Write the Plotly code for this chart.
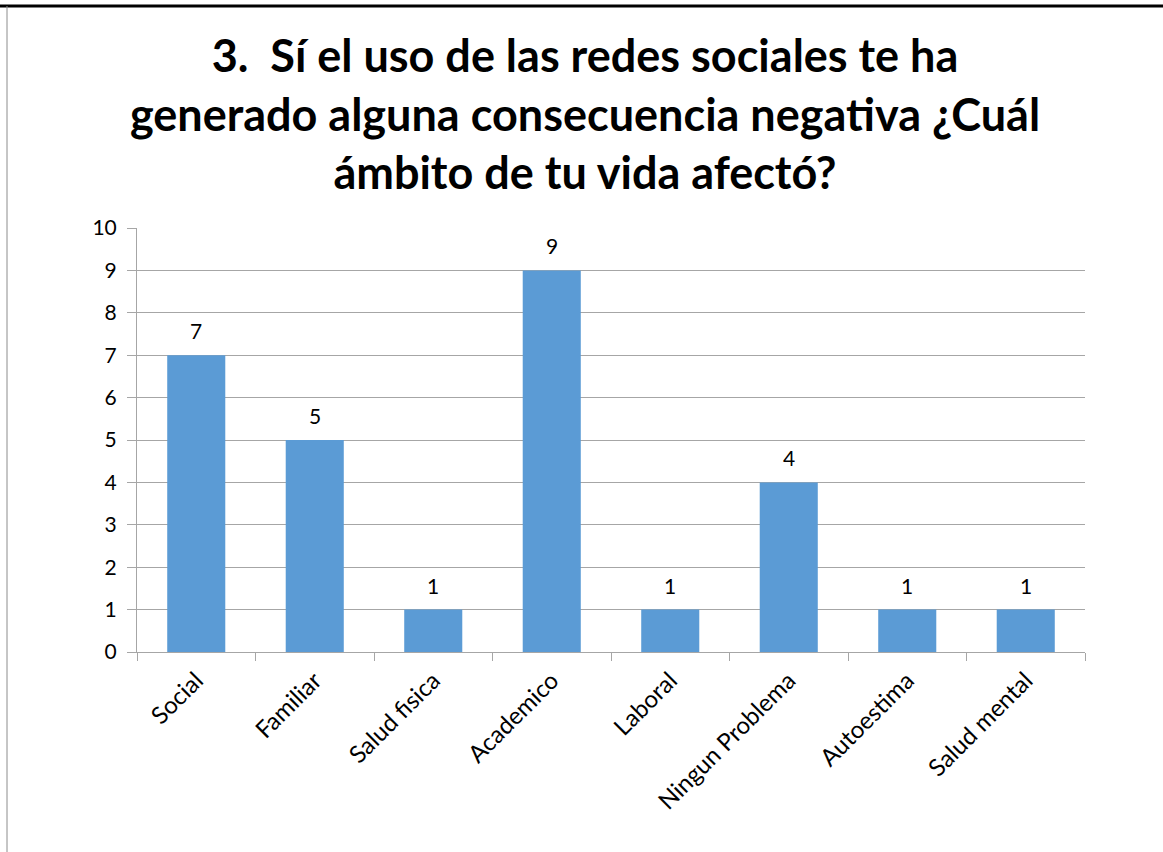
import plotly.graph_objects as go

categories = ["Social", "Familiar", "Salud fisica", "Academico", "Laboral",
              "Ningun Problema", "Autoestima", "Salud mental"]
values = [7, 5, 1, 9, 1, 4, 1, 1]
title_text = "3.  Sí el uso de las redes sociales te ha<br>generado alguna consecuencia negativa ¿Cuál<br>ámbito de tu vida afectó?"

W, H = 1163, 852
L, R, T, B = 137, 78, 228, 200
FONT = "Lato, Open Sans, sans-serif"

fig = go.Figure()
fig.add_trace(go.Bar(
    x=categories, y=values,
    marker=dict(color="#5B9BD5", line=dict(width=0)),
    width=0.49,
    hoverinfo="x+y",
))

for c, v in zip(categories, values):
    fig.add_annotation(x=c, y=v, text=str(v), showarrow=False,
                       xanchor="center", yanchor="bottom", yshift=10,
                       font=dict(family=FONT, size=21, color="#000000"))

fig.update_layout(
    width=W, height=H,
    margin=dict(l=L, r=R, t=T, b=B),
    paper_bgcolor="white", plot_bgcolor="white",
    showlegend=False,
    title=dict(text=title_text, x=0.503, xanchor="center", y=0.915, yanchor="top",
               font=dict(family=FONT, size=45, color="#000000", weight="bold")),
    font=dict(family=FONT, size=20, color="#000000"),
)
fig.update_yaxes(range=[0, 10], dtick=1, showgrid=True, gridcolor="#A6A6A6", gridwidth=1,
                 showline=True, linecolor="#A6A6A6", linewidth=1,
                 ticks="outside", ticklen=9, tickcolor="#A6A6A6",
                 zeroline=False, tickfont=dict(size=21), ticklabelstandoff=6)
fig.update_xaxes(showline=True, linecolor="#A6A6A6", linewidth=1,
                 ticks="outside", ticklen=8, tickcolor="#A6A6A6", tickson="boundaries",
                 tickangle=-45, tickfont=dict(size=24), showgrid=False, ticklabelstandoff=4)

def px_to_paper_x(px):
    return (px - L) / (W - L - R)
def py_to_paper_y(py):
    return (H - B - py) / (H - T - B)

fig.add_shape(type="line", xref="paper", yref="paper",
              x0=px_to_paper_x(0), x1=px_to_paper_x(W), y0=py_to_paper_y(6), y1=py_to_paper_y(6),
              line=dict(color="#000000", width=3))
fig.add_shape(type="line", xref="paper", yref="paper",
              x0=px_to_paper_x(7), x1=px_to_paper_x(7), y0=py_to_paper_y(6), y1=py_to_paper_y(H),
              line=dict(color="#8C8C8C", width=1))

fig.write_html("out.html", config={"displayModeBar": False},
               post_script="document.body.style.margin='0px';document.body.style.overflow='hidden';")
